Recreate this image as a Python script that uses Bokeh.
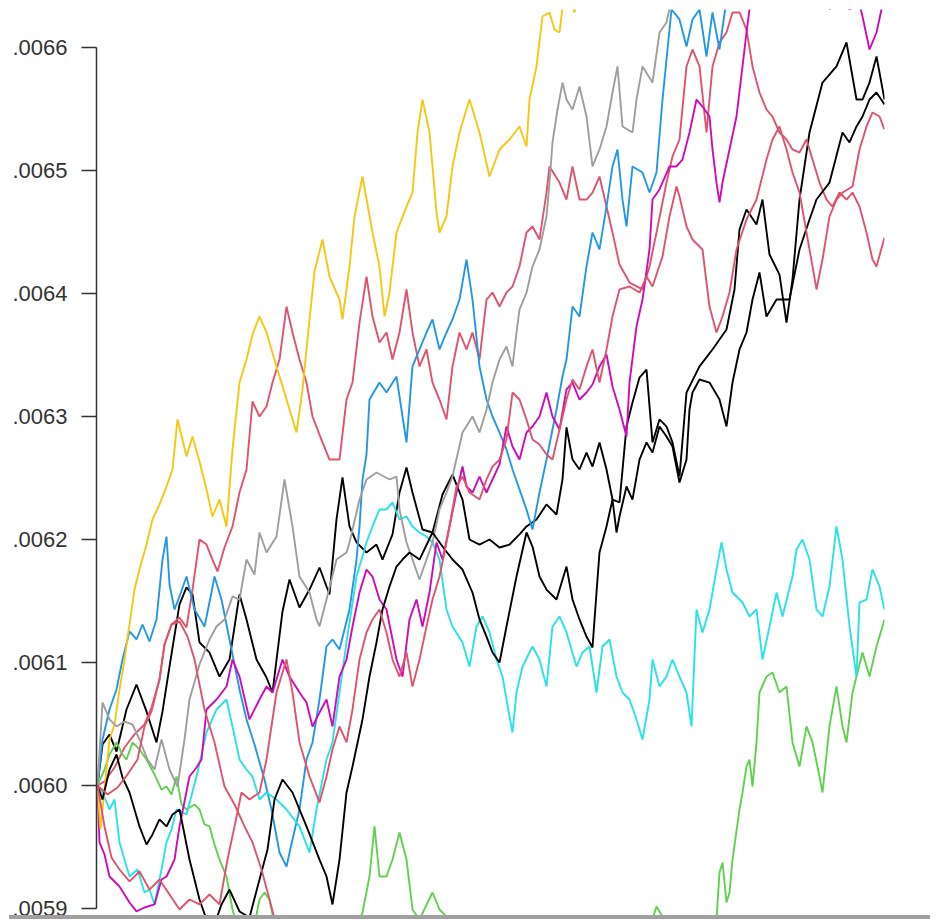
from bokeh.plotting import figure
from bokeh.models import Range1d, FixedTicker, CustomJSTickFormatter, Div
from bokeh.layouts import column
from bokeh.embed import file_html
from bokeh.resources import INLINE

# step index (0..787) and value of each simulated path
black_1_t = [0,5,12,19,29,39,49,59,65,72,82,89,95,102,112,122,132,142,149,159,169,175,185,192,202,212,222,232,239,245,252,259,269,279,285,295,302,309,315,325,335,345,355,365,372,382,392,402,412,422,429,439,449,459,465,469,475,482,489,495,502,509,515,522,529,535,542,549,555,562,569,575,582,589,602,615,629,637,642,649,659,665,672,682,689,695,702,712,725,739,749,759,765,772,779,787]
black_1_v = [0.0060000,0.0060333,0.0060415,0.0060276,0.0060618,0.0060821,0.0060602,0.0060350,0.0060602,0.0060967,0.0061472,0.0061610,0.0061553,0.0061163,0.0061081,0.0060886,0.0061024,0.0061553,0.0061350,0.0061024,0.0060878,0.0060756,0.0061415,0.0061675,0.0061447,0.0061593,0.0061772,0.0061553,0.0062163,0.0062504,0.0062106,0.0061976,0.0061894,0.0061959,0.0061837,0.0062041,0.0062382,0.0062585,0.0062382,0.0062081,0.0062057,0.0062366,0.0062528,0.0062325,0.0062000,0.0061959,0.0062000,0.0061935,0.0061959,0.0062041,0.0062106,0.0062163,0.0062285,0.0062203,0.0062488,0.0062911,0.0062650,0.0062569,0.0062707,0.0062593,0.0062789,0.0062569,0.0062325,0.0062301,0.0062919,0.0063114,0.0063317,0.0063382,0.0062789,0.0062976,0.0062919,0.0062789,0.0062512,0.0063195,0.0063407,0.0063545,0.0063707,0.0064033,0.0064520,0.0064683,0.0064561,0.0064764,0.0064317,0.0064154,0.0063764,0.0064114,0.0064764,0.0065309,0.0065715,0.0065846,0.0066041,0.0065577,0.0065577,0.0065715,0.0065927,0.0065577]

red_a_t = [0,7,17,27,37,47,54,62,67,74,82,89,95,102,109,115,120,127,135,142,149,155,162,169,175,182,189,195,202,209,215,225,232,242,249,255,262,269,275,282,289,295,302,309,315,322,329,335,342,349,355,362,369,375,382,389,395,402,409,415,422,429,435,442,449,452,462,469,475,482,489,495,502,509,515,522,532,545,552,559,569,575,582,589,595,602,609,615,622,629,635,642,649,655,662,669,675,682,689,695,702,709,715,722,729,735,742,749,755,762,769,775,779,787]
red_a_v = [0.0060000,0.0060033,0.0060146,0.0060309,0.0060415,0.0060496,0.0060634,0.0060862,0.0061146,0.0061309,0.0061366,0.0061285,0.0061593,0.0062000,0.0061959,0.0061837,0.0061740,0.0061935,0.0062106,0.0062382,0.0062569,0.0063122,0.0063000,0.0063081,0.0063276,0.0063463,0.0063894,0.0063683,0.0063463,0.0063276,0.0063000,0.0062789,0.0062650,0.0062650,0.0063138,0.0063276,0.0063764,0.0064138,0.0063813,0.0063602,0.0063683,0.0063463,0.0063683,0.0064033,0.0063683,0.0063407,0.0063545,0.0063276,0.0063138,0.0062976,0.0063407,0.0063683,0.0063545,0.0063683,0.0063463,0.0063951,0.0064008,0.0063894,0.0064008,0.0064057,0.0064220,0.0064496,0.0064545,0.0064439,0.0064821,0.0065033,0.0064902,0.0064764,0.0065033,0.0064764,0.0064764,0.0064821,0.0064951,0.0064707,0.0064496,0.0064236,0.0064089,0.0064033,0.0064220,0.0064496,0.0064902,0.0065114,0.0065252,0.0065846,0.0065984,0.0065846,0.0065309,0.0065846,0.0066041,0.0066122,0.0066285,0.0066285,0.0066146,0.0065846,0.0065634,0.0065496,0.0065439,0.0065309,0.0065252,0.0065171,0.0065146,0.0065252,0.0065089,0.0064902,0.0064764,0.0064707,0.0064821,0.0064764,0.0064821,0.0064707,0.0064496,0.0064276,0.0064220,0.0064455]

green_t = [0,7,12,19,25,29,35,42,49,57,64,69,74,79,84,89,97,102,107,112,117,122,129,135,142,157,162,167,172,177,192,222,252,262,265,272,277,282,289,295,302,309,315,322,335,342,349,357,402,502,552,559,565,572,602,615,619,622,625,629,632,635,642,645,649,652,655,659,662,669,675,682,689,695,702,709,715,722,725,732,739,745,749,755,765,772,779,785,787]
green_v = [0.0060000,0.0060130,0.0060252,0.0060350,0.0060252,0.0060211,0.0060350,0.0060293,0.0060211,0.0060089,0.0059967,0.0059992,0.0059927,0.0060073,0.0059846,0.0059805,0.0059846,0.0059805,0.0059683,0.0059667,0.0059520,0.0059398,0.0059260,0.0058992,0.0058789,0.0058870,0.0059073,0.0059130,0.0059073,0.0058870,0.0058585,0.0058341,0.0058667,0.0058911,0.0058967,0.0059260,0.0059667,0.0059260,0.0059260,0.0059398,0.0059618,0.0059398,0.0058992,0.0058911,0.0059130,0.0058992,0.0058935,0.0058789,0.0058423,0.0058341,0.0058829,0.0059016,0.0058935,0.0058789,0.0058667,0.0058829,0.0058911,0.0059293,0.0059374,0.0059049,0.0059130,0.0059398,0.0059805,0.0059943,0.0060154,0.0060211,0.0059992,0.0060350,0.0060756,0.0060886,0.0060919,0.0060756,0.0060805,0.0060350,0.0060154,0.0060480,0.0060350,0.0060073,0.0059943,0.0060480,0.0060805,0.0060480,0.0060350,0.0060756,0.0061081,0.0060886,0.0061130,0.0061293,0.0061350]

blue_t = [0,5,12,19,25,32,39,45,52,59,65,69,72,77,82,89,97,107,114,117,124,132,142,149,157,167,174,182,189,195,202,209,215,222,229,235,242,252,259,262,265,269,272,282,289,299,305,309,315,322,329,335,342,349,355,362,369,375,382,389,395,402,409,415,422,429,435,442,449,455,459,465,469,475,482,489,495,502,509,515,520,525,529,535,545,552,559,565,570,574,582,589,595,602,609,615,622,629,642]
blue_v = [0.0060000,0.0060374,0.0060618,0.0060780,0.0061024,0.0061252,0.0061187,0.0061309,0.0061171,0.0061350,0.0061837,0.0062024,0.0061634,0.0061431,0.0061537,0.0061699,0.0061431,0.0061293,0.0061569,0.0061699,0.0061512,0.0061187,0.0060780,0.0060537,0.0060333,0.0060049,0.0059805,0.0059455,0.0059341,0.0059561,0.0059805,0.0060211,0.0060350,0.0060699,0.0061130,0.0061187,0.0061106,0.0061431,0.0061837,0.0062106,0.0062488,0.0062691,0.0063138,0.0063276,0.0063195,0.0063325,0.0063000,0.0062789,0.0063407,0.0063545,0.0063683,0.0063789,0.0063545,0.0063683,0.0063789,0.0063951,0.0064276,0.0063951,0.0063407,0.0063138,0.0063000,0.0062870,0.0062732,0.0062569,0.0062407,0.0062244,0.0062081,0.0062382,0.0062650,0.0062894,0.0063057,0.0063325,0.0063463,0.0063894,0.0063813,0.0064220,0.0064496,0.0064358,0.0064707,0.0065033,0.0065171,0.0064764,0.0064545,0.0065033,0.0064984,0.0064821,0.0064984,0.0065577,0.0065984,0.0066309,0.0066228,0.0066008,0.0066228,0.0066309,0.0065927,0.0066285,0.0065984,0.0066390,0.0066634]

cyan_t = [0,5,12,17,22,32,40,47,52,57,64,69,74,79,89,99,109,119,129,135,142,149,155,162,169,179,189,202,212,219,229,235,242,249,259,269,275,282,289,295,302,309,315,322,329,335,342,349,355,365,372,379,385,392,399,405,412,415,419,425,435,442,449,455,462,469,479,485,492,499,505,512,519,525,532,539,545,552,555,562,569,575,582,589,594,599,605,612,619,624,629,635,645,652,659,665,672,679,685,695,699,705,712,719,725,732,739,745,752,759,762,769,775,782,787]
cyan_v = [0.0060000,0.0059943,0.0059805,0.0059886,0.0059537,0.0059260,0.0059317,0.0059130,0.0059154,0.0059033,0.0059317,0.0059537,0.0059642,0.0059805,0.0059764,0.0060073,0.0060431,0.0060618,0.0060699,0.0060480,0.0060211,0.0060130,0.0060073,0.0059886,0.0059943,0.0059886,0.0059805,0.0059667,0.0059455,0.0059805,0.0060211,0.0060350,0.0060756,0.0061163,0.0061699,0.0061976,0.0062106,0.0062244,0.0062244,0.0062301,0.0062163,0.0062187,0.0062106,0.0062057,0.0062024,0.0061976,0.0061837,0.0061431,0.0061293,0.0061163,0.0060967,0.0061293,0.0061374,0.0061244,0.0061024,0.0060886,0.0060561,0.0060431,0.0060756,0.0060967,0.0061130,0.0061024,0.0060805,0.0061293,0.0061374,0.0061244,0.0060967,0.0061081,0.0061130,0.0060756,0.0061130,0.0061187,0.0060886,0.0060756,0.0060699,0.0060537,0.0060374,0.0060699,0.0061024,0.0060805,0.0060886,0.0061024,0.0060886,0.0060756,0.0060480,0.0061431,0.0061244,0.0061431,0.0061756,0.0061976,0.0061756,0.0061569,0.0061488,0.0061374,0.0061431,0.0061024,0.0061293,0.0061569,0.0061374,0.0061699,0.0061919,0.0062000,0.0061837,0.0061431,0.0061374,0.0061618,0.0062106,0.0061837,0.0061293,0.0060886,0.0061488,0.0061512,0.0061756,0.0061618,0.0061431]

magenta_t = [0,2,7,12,22,32,39,47,57,64,69,77,82,92,99,104,109,119,129,135,142,152,162,169,175,185,192,202,209,215,222,229,235,242,249,255,262,269,275,282,289,299,305,312,319,325,332,339,345,352,359,365,369,375,382,389,395,402,409,415,422,429,435,442,449,455,462,469,475,482,489,495,502,509,515,522,529,532,539,545,552,555,562,572,579,585,592,599,605,612,615,619,622,625,632,639,645,649,652,662,692,722,732,742,752,762,765,772,779,784,787]
magenta_v = [0.0060000,0.0059537,0.0059439,0.0059260,0.0059179,0.0059049,0.0058976,0.0059008,0.0059033,0.0059236,0.0059260,0.0059398,0.0059667,0.0060073,0.0060146,0.0060211,0.0060618,0.0060699,0.0060805,0.0061024,0.0060886,0.0060537,0.0060699,0.0060805,0.0060756,0.0061024,0.0060886,0.0060756,0.0060675,0.0060480,0.0060593,0.0060699,0.0060480,0.0060886,0.0061024,0.0061293,0.0061569,0.0061756,0.0061699,0.0061512,0.0061431,0.0061024,0.0060886,0.0061350,0.0061512,0.0061293,0.0061569,0.0061976,0.0061837,0.0062106,0.0062382,0.0062593,0.0062431,0.0062382,0.0062512,0.0062382,0.0062488,0.0062610,0.0062919,0.0062756,0.0062650,0.0062870,0.0062919,0.0063000,0.0063195,0.0063000,0.0062894,0.0063220,0.0063276,0.0063138,0.0063195,0.0063260,0.0063407,0.0063504,0.0063244,0.0063057,0.0062837,0.0063276,0.0063732,0.0063951,0.0064358,0.0064764,0.0064846,0.0065033,0.0065033,0.0065089,0.0065309,0.0065577,0.0065520,0.0065439,0.0065171,0.0064902,0.0064740,0.0064902,0.0065171,0.0065439,0.0065846,0.0066122,0.0066309,0.0066553,0.0066715,0.0066512,0.0066309,0.0066431,0.0066309,0.0066350,0.0066252,0.0065984,0.0066122,0.0066309,0.0066390]

yellow_t = [0,3,6,12,17,22,27,32,37,42,49,55,62,69,75,80,85,89,95,102,109,115,122,129,135,142,149,155,162,169,179,189,199,205,211,217,225,232,242,245,252,257,265,275,282,287,292,299,309,315,320,325,332,339,342,349,355,362,372,382,392,402,412,422,429,432,439,445,452,457,462,465,472,477,482,502]
yellow_v = [0.0060000,0.0059642,0.0059886,0.0060374,0.0060496,0.0060780,0.0061024,0.0061309,0.0061593,0.0061756,0.0061959,0.0062163,0.0062285,0.0062431,0.0062569,0.0062976,0.0062813,0.0062675,0.0062837,0.0062634,0.0062407,0.0062187,0.0062325,0.0062106,0.0062732,0.0063276,0.0063463,0.0063667,0.0063813,0.0063683,0.0063407,0.0063138,0.0062870,0.0063220,0.0063707,0.0064179,0.0064439,0.0064138,0.0063951,0.0063789,0.0064220,0.0064626,0.0064951,0.0064496,0.0064220,0.0063813,0.0064008,0.0064496,0.0064707,0.0064821,0.0065309,0.0065577,0.0065309,0.0064659,0.0064496,0.0064626,0.0065033,0.0065309,0.0065577,0.0065309,0.0064951,0.0065171,0.0065252,0.0065358,0.0065195,0.0065577,0.0065846,0.0066252,0.0066285,0.0066146,0.0066122,0.0066325,0.0066431,0.0066285,0.0066512,0.0066715]

gray_t = [0,5,12,19,27,35,42,50,57,64,72,80,87,92,102,112,119,127,135,142,149,157,162,169,179,187,195,202,212,219,222,229,239,249,252,262,269,279,292,299,302,309,315,322,329,335,342,349,355,365,375,382,389,395,402,409,415,419,422,429,435,442,449,452,455,460,465,469,475,482,489,495,502,509,515,520,525,535,539,545,555,562,569,574,587]
gray_v = [0.0060000,0.0060675,0.0060537,0.0060480,0.0060520,0.0060496,0.0060374,0.0060211,0.0060130,0.0060374,0.0060130,0.0059992,0.0060374,0.0060699,0.0060984,0.0061187,0.0061293,0.0061350,0.0061537,0.0061512,0.0061837,0.0061715,0.0062057,0.0061894,0.0062024,0.0062488,0.0062106,0.0061699,0.0061569,0.0061350,0.0061293,0.0061512,0.0061837,0.0061894,0.0061976,0.0062325,0.0062488,0.0062545,0.0062488,0.0062512,0.0062244,0.0061976,0.0061837,0.0061675,0.0061837,0.0061976,0.0062244,0.0062382,0.0062512,0.0062870,0.0063000,0.0062870,0.0063057,0.0063276,0.0063463,0.0063569,0.0063407,0.0063683,0.0063870,0.0064008,0.0064220,0.0064358,0.0064626,0.0064902,0.0065228,0.0065496,0.0065715,0.0065577,0.0065496,0.0065683,0.0065439,0.0065033,0.0065171,0.0065358,0.0065634,0.0065846,0.0065358,0.0065309,0.0065577,0.0065846,0.0065715,0.0066122,0.0066203,0.0066390,0.0066553]

black_2_t = [0,5,12,19,25,32,42,49,55,62,69,75,82,92,102,109,117,124,132,142,152,162,170,177,185,195,209,222,229,235,242,249,255,265,272,279,285,292,299,305,312,322,335,345,355,365,375,382,389,395,402,409,419,429,435,442,449,459,469,475,482,489,495,499,502,509,515,519,522,529,535,542,549,555,562,569,575,582,589,592,595,602,612,622,629,635,642,649,655,662,669,679,692,702,712,719,732,745,752,759,765,772,779,787]
black_2_v = [0.0060000,0.0059886,0.0060130,0.0060252,0.0060065,0.0059943,0.0059667,0.0059520,0.0059602,0.0059724,0.0059667,0.0059764,0.0059805,0.0059398,0.0059073,0.0058911,0.0058870,0.0059033,0.0059154,0.0058976,0.0058927,0.0059236,0.0059480,0.0059886,0.0060049,0.0059943,0.0059667,0.0059398,0.0059260,0.0059033,0.0059398,0.0059943,0.0060154,0.0060537,0.0060886,0.0061163,0.0061431,0.0061618,0.0061780,0.0061837,0.0061894,0.0061837,0.0062057,0.0061943,0.0061837,0.0061756,0.0061569,0.0061350,0.0061211,0.0061081,0.0061000,0.0061293,0.0061699,0.0062057,0.0061943,0.0061699,0.0061593,0.0061512,0.0061780,0.0061512,0.0061350,0.0061211,0.0061122,0.0061569,0.0061894,0.0062106,0.0062325,0.0062057,0.0062187,0.0062431,0.0062325,0.0062650,0.0062789,0.0062707,0.0062919,0.0062837,0.0062756,0.0062463,0.0062650,0.0063057,0.0063195,0.0063301,0.0063276,0.0063138,0.0062919,0.0063276,0.0063545,0.0063683,0.0063951,0.0064171,0.0063813,0.0063951,0.0063951,0.0064358,0.0064602,0.0064764,0.0064902,0.0065309,0.0065228,0.0065358,0.0065439,0.0065577,0.0065634,0.0065537]

red_b_t = [0,7,14,22,32,42,52,62,72,82,92,102,112,122,130,137,144,152,162,169,179,189,195,202,212,222,229,235,242,249,255,262,269,275,282,289,295,302,309,315,322,329,335,342,349,355,359,365,372,382,389,395,402,409,415,422,429,435,442,449,455,462,469,475,482,489,495,502,509,515,522,532,542,549,555,565,572,579,582,589,595,605,609,612,619,625,632,639,649,659,669,675,682,689,695,702,709,715,719,725,732,739,745,755,762,769,775,782,787]
red_b_v = [0.0060000,0.0059667,0.0059415,0.0059317,0.0059220,0.0059301,0.0059154,0.0059236,0.0059114,0.0058992,0.0059073,0.0059033,0.0059114,0.0059033,0.0059398,0.0059667,0.0059943,0.0059886,0.0059943,0.0060211,0.0060756,0.0061024,0.0060756,0.0060350,0.0060073,0.0059862,0.0060073,0.0060293,0.0060480,0.0060350,0.0060618,0.0061024,0.0061244,0.0061350,0.0061431,0.0061244,0.0061024,0.0060886,0.0061081,0.0060805,0.0061024,0.0061293,0.0061512,0.0061699,0.0061976,0.0062244,0.0062431,0.0062512,0.0062382,0.0062325,0.0062488,0.0062593,0.0062650,0.0062813,0.0063195,0.0063138,0.0062976,0.0062813,0.0062772,0.0062691,0.0062650,0.0062894,0.0063138,0.0063301,0.0063220,0.0063407,0.0063545,0.0063276,0.0063545,0.0063813,0.0064033,0.0064057,0.0064008,0.0064138,0.0064057,0.0064301,0.0064626,0.0064870,0.0064789,0.0064545,0.0064439,0.0064358,0.0064089,0.0063894,0.0063683,0.0063813,0.0064008,0.0064358,0.0064602,0.0064764,0.0065089,0.0065252,0.0065358,0.0065171,0.0064984,0.0064821,0.0064496,0.0064220,0.0064033,0.0064276,0.0064626,0.0064764,0.0064821,0.0064870,0.0065171,0.0065358,0.0065472,0.0065439,0.0065333]

red_c_t = [0,10,20,30,40,47,54,62,67,74,82,90,97,107,117,127,137,147,155,164,172,180,192]
red_c_v = [0.0060000,0.0059927,0.0059984,0.0060089,0.0060211,0.0060480,0.0060602,0.0060862,0.0061146,0.0061309,0.0061333,0.0061211,0.0061024,0.0060618,0.0060350,0.0059992,0.0059846,0.0059667,0.0059537,0.0059317,0.0059073,0.0058829,0.0058585]

y_ticks = [0.0059, 0.0060, 0.0061, 0.0062, 0.0063, 0.0064, 0.0065, 0.0066]

series = [
    (black_1_t, black_1_v, "#000000"),
    (red_a_t, red_a_v, "#DF536B"),
    (green_t, green_v, "#61D04F"),
    (blue_t, blue_v, "#2297E6"),
    (cyan_t, cyan_v, "#28E2E5"),
    (magenta_t, magenta_v, "#CD0BBC"),
    (yellow_t, yellow_v, "#F5C710"),
    (gray_t, gray_v, "#9E9E9E"),
    (black_2_t, black_2_v, "#000000"),
    (red_b_t, red_b_v, "#DF536B"),
    (red_c_t, red_c_v, "#DF536B"),
]

p = figure(width=930, height=915,
           x_range=Range1d(-1, 787), y_range=Range1d(0.0058943, 0.0066309),
           x_axis_location=None, y_axis_location="left",
           toolbar_location=None, output_backend="svg",
           min_border_left=96, min_border_right=46,
           min_border_top=9, min_border_bottom=0, margin=0)
p.outline_line_color = None
p.xgrid.visible = False
p.ygrid.visible = False
p.background_fill_color = "white"
p.border_fill_color = "white"

for t, v, col in series:
    n = min(len(t), len(v))
    p.line(t[:n], v[:n], line_color=col, line_width=1.9)

ax = p.yaxis[0]
ax.ticker = FixedTicker(ticks=y_ticks)
ax.formatter = CustomJSTickFormatter(code="return tick.toFixed(4).replace(/^0/, '');")
ax.bounds = (0.0059, 0.0066)
ax.axis_line_color = "#333333"
ax.axis_line_width = 1.5
ax.major_tick_line_color = "#333333"
ax.major_tick_line_width = 1.5
ax.major_tick_out = 15
ax.major_tick_in = 0
ax.minor_tick_line_color = None
ax.major_label_standoff = 14
ax.major_label_text_font = "Liberation Sans"
ax.major_label_text_font_size = "22px"
ax.major_label_text_color = "#333333"

# grey window edge along the bottom of the picture
edge = Div(text="", width=921, height=4, margin=(0, 0, 0, 9),
           styles={"background-color": "#A0A0A0"})

layout = column(p, edge, spacing=0, margin=0)
open("out.html", "w").write(file_html(layout, INLINE))
